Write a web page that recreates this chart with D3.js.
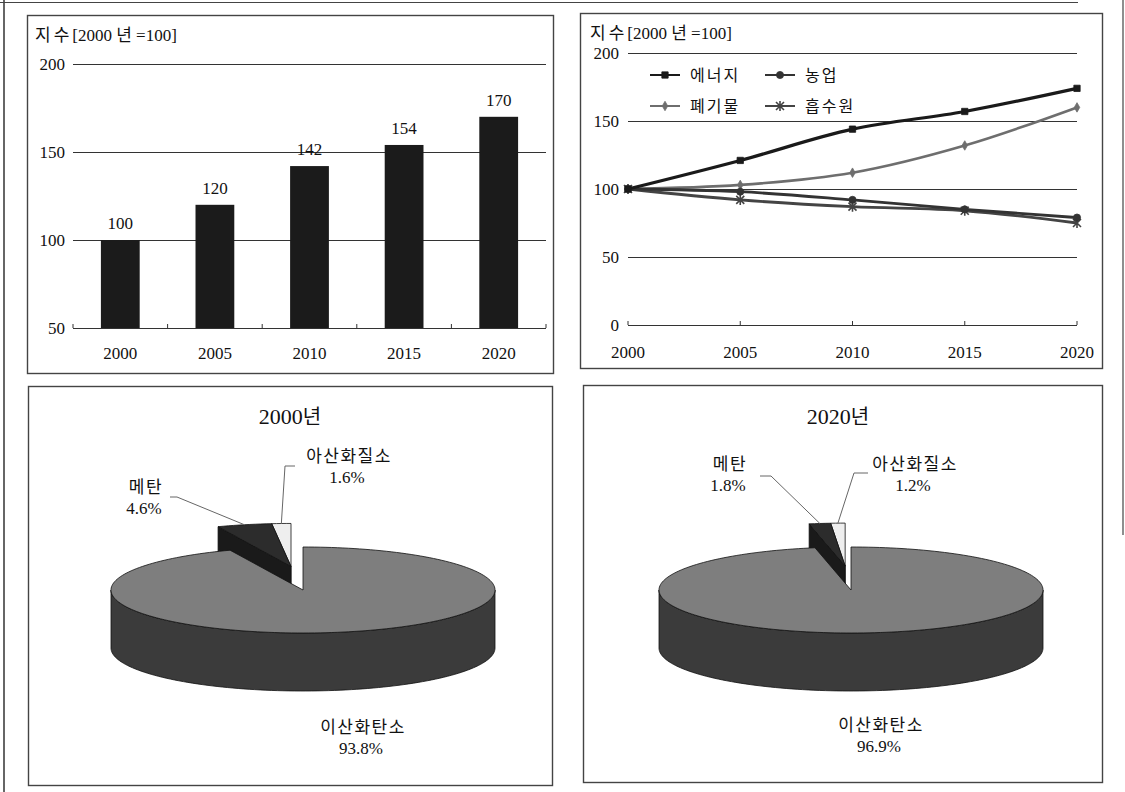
<!DOCTYPE html>
<html>
<head>
<meta charset="utf-8">
<script src="https://cdn.jsdelivr.net/npm/d3@7"></script>
<style>
  body { margin: 0; background: #fff; }
  svg text { font-family: "Liberation Serif", "Noto Sans CJK KR", serif; fill: #111; }
</style>
</head>
<body>
<svg id="chart" width="1125" height="792"></svg>
<script>
// ---- data ----
var years = [2000, 2005, 2010, 2015, 2020];
var totalIndex = [100, 120, 142, 154, 170];
var barTicks = [50, 100, 150, 200];

var lineNames = ["에너지", "농업", "폐기물", "흡수원"];
var energy = [100, 121, 144, 157, 174];
var agriculture = [100, 98, 92, 85, 79];
var waste = [100, 103, 112, 132, 160];
var sink = [100, 92, 87, 84, 75];
var lineTicks = [0, 50, 100, 150, 200];

var gasNames = ["이산화탄소", "메탄", "아산화질소"];
var share2000 = [93.8, 4.6, 1.6];
var share2020 = [96.9, 1.8, 1.2];

var svg = d3.select("#chart");
var numFont = 17;

// outer scan frame
svg.append("line").attr("x1", 4).attr("x2", 4).attr("y1", 0).attr("y2", 792)
  .attr("stroke", "#333").attr("stroke-width", 1.5);
svg.append("line").attr("x1", 0).attr("x2", 1078).attr("y1", 2.5).attr("y2", 2.5)
  .attr("stroke", "#444").attr("stroke-width", 1.2);
svg.append("line").attr("x1", 1123).attr("x2", 1123).attr("y1", 0).attr("y2", 535)
  .attr("stroke", "#444").attr("stroke-width", 1.2);

function panel(x0, y0, x1, y1) {
  svg.append("rect").attr("x", x0 + 0.5).attr("y", y0 + 0.5)
    .attr("width", x1 - x0).attr("height", y1 - y0)
    .attr("fill", "none").attr("stroke", "#444").attr("stroke-width", 1.4);
}
panel(27, 15, 553, 373);
panel(580, 13, 1102, 368);
panel(28, 386, 552, 785);
panel(583, 385, 1102, 782);

function unitTitle(g, x, y) {
  var t = g.append("text").attr("x", x).attr("y", y).attr("font-size", numFont);
  t.append("tspan").style("font-family", "Noto Sans CJK KR, sans-serif").attr("letter-spacing", 3).text("지수");
  t.append("tspan").text("[2000 ");
  t.append("tspan").style("font-family", "Noto Sans CJK KR, sans-serif").text("년");
  t.append("tspan").text(" =100]");
}

// ---- bar chart ----
var bx = d3.scaleBand().domain(years).range([73, 546]).paddingInner(0.59).paddingOuter(0.295);
var by = d3.scaleLinear().domain([50, 200]).range([328, 64]);
var gBar = svg.append("g");

unitTitle(gBar, 35, 41);

var yAxisBar = gBar.append("g").attr("transform", "translate(73,0)")
  .call(d3.axisLeft(by).tickValues(barTicks).tickSize(-473).tickPadding(8));
yAxisBar.attr("font-size", null).attr("font-family", null);
yAxisBar.select(".domain").remove();
yAxisBar.selectAll("line").attr("stroke", "#333").attr("stroke-width", 1.2);
yAxisBar.selectAll("text").attr("font-size", numFont).attr("fill", "#111");

// small tick marks on the base line
var boundaries = years.map(function (y) { return bx(y) - (bx.step() - bx.bandwidth()) / 2; }).concat([546]);
gBar.selectAll(".btick").data(boundaries).join("line")
  .attr("x1", function (d) { return d; }).attr("x2", function (d) { return d; })
  .attr("y1", by(50)).attr("y2", by(50) - 4).attr("stroke", "#333");

gBar.selectAll(".bar").data(totalIndex).join("rect")
  .attr("x", function (d, i) { return bx(years[i]); })
  .attr("width", bx.bandwidth())
  .attr("y", function (d) { return by(d); })
  .attr("height", function (d) { return by(50) - by(d); })
  .attr("fill", "#1b1b1b");

gBar.selectAll(".val").data(totalIndex).join("text")
  .attr("x", function (d, i) { return bx(years[i]) + bx.bandwidth() / 2; })
  .attr("y", function (d) { return by(d) - 11; })
  .attr("text-anchor", "middle").attr("font-size", numFont)
  .text(function (d) { return d; });

gBar.selectAll(".xl").data(years).join("text")
  .attr("x", function (d) { return bx(d) + bx.bandwidth() / 2; })
  .attr("y", 359).attr("text-anchor", "middle").attr("font-size", numFont)
  .text(function (d) { return d; });

// ---- line chart ----
var lx = d3.scaleLinear().domain([2000, 2020]).range([628, 1077]);
var ly = d3.scaleLinear().domain([0, 200]).range([325, 53]);
var gLine = svg.append("g");

unitTitle(gLine, 590, 39);

var yAxisLine = gLine.append("g").attr("transform", "translate(628,0)")
  .call(d3.axisLeft(ly).tickValues(lineTicks).tickSize(-449).tickPadding(9));
yAxisLine.attr("font-size", null).attr("font-family", null);
yAxisLine.select(".domain").remove();
yAxisLine.selectAll("line").attr("stroke", "#333").attr("stroke-width", 1.2);
yAxisLine.selectAll("text").attr("font-size", numFont).attr("fill", "#111");

gLine.selectAll(".ltick").data(years).join("line")
  .attr("x1", lx).attr("x2", lx)
  .attr("y1", ly(0)).attr("y2", ly(0) - 4).attr("stroke", "#333");

gLine.selectAll(".lxl").data(years).join("text")
  .attr("x", lx).attr("y", 358).attr("text-anchor", "middle").attr("font-size", numFont)
  .text(function (d) { return d; });

var seriesList = [
  { name: lineNames[0], values: energy, color: "#1a1a1a", width: 3.2, marker: "square" },
  { name: lineNames[1], values: agriculture, color: "#333", width: 2.8, marker: "circle" },
  { name: lineNames[2], values: waste, color: "#6e6e6e", width: 2.6, marker: "diamond" },
  { name: lineNames[3], values: sink, color: "#444", width: 2.8, marker: "x" }
];

function drawMarker(g, type, x, y, color) {
  if (type === "x") {
    var p = d3.path();
    p.moveTo(x - 4, y - 4); p.lineTo(x + 4, y + 4);
    p.moveTo(x + 4, y - 4); p.lineTo(x - 4, y + 4);
    p.moveTo(x, y - 5); p.lineTo(x, y + 5);
    g.append("path").attr("d", p.toString()).attr("stroke", color).attr("stroke-width", 1.6).attr("fill", "none");
    return;
  }
  var sym = type === "square" ? d3.symbolSquare : type === "circle" ? d3.symbolCircle : d3.symbolDiamond;
  var size = type === "diamond" ? 26 : 40;
  g.append("path").attr("d", d3.symbol().type(sym).size(size)())
    .attr("transform", "translate(" + x + "," + y + ")")
    .attr("fill", color).attr("stroke", color).attr("stroke-width", 0.8);
}

var line = d3.line()
  .x(function (d, i) { return lx(years[i]); })
  .y(function (d) { return ly(d); })
  .curve(d3.curveMonotoneX);

[2, 3, 1, 0].forEach(function (k) {
  var s = seriesList[k];
  gLine.append("path").attr("d", line(s.values))
    .attr("fill", "none").attr("stroke", s.color).attr("stroke-width", s.width);
  s.values.forEach(function (v, i) { drawMarker(gLine, s.marker, lx(years[i]), ly(v), s.color); });
});

// legend
var legendCols = [650, 765];
var legendRows = [75, 106];
seriesList.forEach(function (s, i) {
  var lxp = legendCols[i % 2], lyp = legendRows[Math.floor(i / 2)];
  gLine.append("line").attr("x1", lxp).attr("x2", lxp + 30).attr("y1", lyp).attr("y2", lyp)
    .attr("stroke", s.color).attr("stroke-width", 2);
  drawMarker(gLine, s.marker, lxp + 15, lyp, s.color);
  gLine.append("text").attr("x", lxp + 40).attr("y", lyp + 6).attr("font-size", 16)
    .attr("letter-spacing", 2)
    .style("font-family", "Noto Sans CJK KR, sans-serif").text(s.name);
});

// ---- 3D pies ----
var rx = 192, ry = 43, depth = 58;
var topFill = ["#7e7e7e", "#2c2c2c", "#eeeeee"];
var sideFill = ["#3b3b3b", "#1a1a1a", "#c4c4c4"];

function pt(sx, sy, a, dz) {
  return [sx + rx * Math.sin(a), sy - ry * Math.cos(a) + (dz || 0)];
}
function sampleArc(sx, sy, a0, a1, dz) {
  var n = Math.max(2, Math.ceil(Math.abs(a1 - a0) / 0.03));
  return d3.range(n + 1).map(function (i) { return pt(sx, sy, a0 + (a1 - a0) * i / n, dz); });
}

function pie3d(values, title, cx, cy, labelSpots) {
  var g = svg.append("g");
  var arcs = d3.pie().sort(null)(values);
  var bis = (arcs[1].startAngle + arcs[arcs.length - 1].endAngle) / 2;
  var ex = 62 * Math.sin(bis), ey = -24 * Math.cos(bis);

  arcs.forEach(function (a, i) {
    a.sx = i === 0 ? cx : cx + ex;
    a.sy = i === 0 ? cy : cy + ey;
    a.mid = (a.startAngle + a.endAngle) / 2;
  });

  // back slices first, main slice last
  var order = [arcs[2], arcs[1], arcs[0]];
  var lineGen = d3.line();
  order.forEach(function (a) {
    var i = a.index, sx = a.sx, sy = a.sy;
    // visible cut faces
    [[a.startAngle, Math.sin(a.startAngle) < -1e-6], [a.endAngle, Math.sin(a.endAngle) > 1e-6]].forEach(function (f) {
      if (!f[1]) return;
      var o = pt(sx, sy, f[0]);
      g.append("path").attr("d", lineGen([[sx, sy], o, [o[0], o[1] + depth], [sx, sy + depth]]) + "Z")
        .attr("fill", sideFill[i]).attr("stroke", "#111").attr("stroke-width", 0.8);
    });
    // outer side (front half only)
    var s0 = Math.max(a.startAngle, Math.PI / 2), s1 = Math.min(a.endAngle, 3 * Math.PI / 2);
    if (s1 > s0) {
      var top = sampleArc(sx, sy, s0, s1, 0);
      var bot = sampleArc(sx, sy, s1, s0, depth);
      g.append("path").attr("d", lineGen(top.concat(bot)) + "Z")
        .attr("fill", sideFill[i]).attr("stroke", "#111").attr("stroke-width", 0.8);
    }
    // top face
    var face = [[sx, sy]].concat(sampleArc(sx, sy, a.startAngle, a.endAngle, 0));
    g.append("path").attr("d", lineGen(face) + "Z")
      .attr("fill", topFill[i]).attr("stroke", "#111").attr("stroke-width", 0.8);
  });

  var tt = g.append("text").attr("x", cx - 13).attr("y", cy - 166).attr("text-anchor", "middle")
    .attr("font-size", 22);
  tt.append("tspan").text(title.slice(0, 4));
  tt.append("tspan").style("font-family", "Noto Sans CJK KR, sans-serif").attr("font-size", 20).text(title.slice(4));

  labelSpots.forEach(function (ls, i) {
    var a = arcs[i];
    g.append("text").attr("x", cx + ls.dx).attr("y", cy + ls.dy).attr("text-anchor", "middle")
      .attr("font-size", 17).attr("letter-spacing", 1.5)
      .style("font-family", "Noto Sans CJK KR, sans-serif").text(gasNames[i]);
    g.append("text").attr("x", cx + ls.dx - 2).attr("y", cy + ls.dy + 21).attr("text-anchor", "middle")
      .attr("font-size", numFont).text(d3.format(".1f")(values[i]) + "%");
    if (ls.lead) {
      var end = pt(a.sx, a.sy, a.mid);
      g.append("path")
        .attr("d", lineGen([[cx + ls.lead[0], cy + ls.lead[1]], [cx + ls.lead[2], cy + ls.lead[1]], end]))
        .attr("fill", "none").attr("stroke", "#666").attr("stroke-width", 1);
    }
  });
}

pie3d(share2000, "2000년", 303, 590, [
  { dx: 60, dy: 143 },
  { dx: -157, dy: -97, lead: [-133, -93, -126] },
  { dx: 46, dy: -128, lead: [-8, -124, -18] }
]);
pie3d(share2020, "2020년", 851, 590, [
  { dx: 30, dy: 141 },
  { dx: -121, dy: -120, lead: [-91, -114, -80] },
  { dx: 64, dy: -120, lead: [17, -117, 3] }
]);
</script>
</body>
</html>
